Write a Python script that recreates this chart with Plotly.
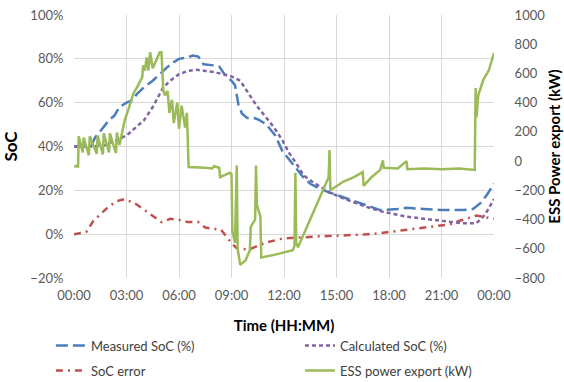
import plotly.graph_objects as go

# ---- data (time in hours, 0-24) ----
tick_hours = [0, 3, 6, 9, 12, 15, 18, 21, 24]
tick_labels = ["00:00", "03:00", "06:00", "09:00", "12:00", "15:00", "18:00", "21:00", "00:00"]

meas_t = [0, 0.5, 1.0, 1.2, 1.5, 1.8, 2.0, 2.3, 2.6, 3.0, 3.3, 3.6, 4.0, 4.5, 4.9, 5.3, 5.7, 6.0,
          6.4, 6.8, 7.1, 7.4, 8.0, 8.3, 8.6, 9.0, 9.2, 9.4, 9.6, 9.9, 10.3, 10.6, 11.0, 11.5,
          11.9, 12.5, 13.1, 13.5, 14.0, 14.6, 15.5, 16.5, 17.5, 18.5, 19.0, 20.0, 21.0, 22.2,
          22.8, 23.2, 23.6, 24.0]
meas_soc = [40, 40, 40.5, 44, 47, 50, 52, 54, 58, 60, 61, 64, 67, 70, 73, 76, 78.5, 80,
            80.5, 81.5, 81, 77.5, 77, 76.5, 73, 70, 68, 59, 55, 53, 53, 52, 50, 45,
            38, 32, 26, 23, 21, 19, 16.5, 13.5, 11, 11.5, 12, 11.5, 11, 11,
            11.5, 14, 18, 23]

calc_t = [0, 1, 1.7, 2.2, 2.6, 3.0, 3.6, 4.0, 4.5, 5.1, 5.5, 6.0, 6.5, 7.0, 7.5, 8.0, 8.5, 9.0,
          9.5, 10.0, 10.4, 10.9, 11.4, 11.9, 12.3, 12.8, 13.1, 13.6, 14.0, 14.6, 15.5, 16.5,
          17.5, 18.5, 19.0, 20.0, 21.0, 22.2, 23.0, 23.5, 24.0]
calc_soc = [40, 40, 40.5, 42, 43.5, 45, 49, 52, 58, 67, 70, 73, 74.5, 75, 74.5, 74, 73, 72,
            70, 64, 59, 54, 49, 43, 37, 31, 27, 24, 22, 19, 16, 13,
            10.5, 9, 8, 7, 6, 5, 5, 9, 16]

err_t = [0, 0.7, 1.1, 1.5, 1.9, 2.4, 2.9, 3.5, 4.2, 4.7, 5.0, 5.5, 6.0, 6.5, 7.1, 7.5, 7.9, 8.4,
         9.0, 9.3, 10.0, 10.9, 11.9, 12.9, 14.0, 15.6, 17.0, 18.0, 19.0, 20.3, 21.5, 22.0, 23.0, 24.0]
err_soc = [0, 1, 6, 9, 12, 15, 16, 14, 10, 7, 5.5, 7, 6.5, 5.5, 5.5, 3, 2.5, 2,
           -4, -6.5, -7, -4, -2, -1.5, -1, -0.5, 0, 1, 2, 3, 4.5, 6, 8.5, 7]

ess_t = [0, 0.2, 0.23, 0.27, 0.5, 0.55, 0.85, 0.9, 1.3, 1.35, 1.65, 1.7, 2.0, 2.05, 2.4, 2.45,
         2.6, 2.9, 3.1, 3.4, 3.6, 3.9, 3.95, 4.05, 4.15, 4.25, 4.35, 4.5, 4.9, 5.0, 5.1, 5.2,
         5.35, 5.45, 5.6, 5.7, 5.9, 6.0, 6.15, 6.35, 6.45, 6.5, 6.55, 7.5, 7.9, 8.0, 8.3, 8.35,
         8.9, 9.0, 9.05, 9.2, 9.3, 9.35, 9.5, 9.8, 10.05, 10.1, 10.35, 10.4, 10.45, 10.65,
         10.7, 11.5, 12.5, 12.6, 12.65, 12.7, 12.8, 14.55, 14.6, 14.65, 15.0, 15.4, 16.0,
         16.5, 16.55, 17.0, 17.5, 17.65, 17.7, 18.5, 19.0, 19.05, 20.0, 21.0, 22.0, 22.9,
         22.95, 23.0, 23.1, 23.4, 23.7, 24.0]
ess_kw = [-40, -30, -45, 170, 60, 160, 40, 170, 50, 175, 45, 190, 60, 190, 55, 195,
          110, 280, 350, 465, 505, 575, 655, 620, 710, 620, 745, 635, 745, 745, 485, 450,
          480, 330, 420, 260, 400, 220, 380, 230, 330, 180, -40, -45, -50, -35, -45, -110,
          -80, -90, -480, -560, -30, -600, -710, -680, -610, -450, -400, -30, -300, -380,
          -660, -640, -610, -580, -80, -560, -590, -110, 75, -200, -170, -140, -110,
          -75, -170, -110, -60, 5, -45, -50, 0, -55, -50, -55, -50, -60,
          500, 300, 450, 560, 620, 740]

FONT = "Lato, Liberation Sans, sans-serif"
C_BLUE = "#4A7EBB"
C_PURPLE = "#8064A2"
C_RED = "#C0504D"
C_GREEN = "#9BBB59"

fig = go.Figure()
fig.add_trace(go.Scatter(x=meas_t, y=meas_soc, mode="lines", name="Measured SoC (%)",
                         line=dict(color=C_BLUE, width=2.5, dash="12px,5px"),
                         legend="legend", legendgroup="a"))
fig.add_trace(go.Scatter(x=err_t, y=err_soc, mode="lines", name="SoC error",
                         line=dict(color=C_RED, width=2.5, dash="7px,5px,2px,5px"),
                         legend="legend", legendgroup="b"))
fig.add_trace(go.Scatter(x=calc_t, y=calc_soc, mode="lines", name="Calculated SoC (%)",
                         line=dict(color=C_PURPLE, width=2.5, dash="4px,3px"),
                         legend="legend2", legendgroup="c"))
fig.add_trace(go.Scatter(x=ess_t, y=ess_kw, mode="lines", name="ESS power export (kW)",
                         line=dict(color=C_GREEN, width=2.5), yaxis="y2",
                         legend="legend2", legendgroup="d"))

grid = "#D9D9D9"
fig.update_layout(
    width=564, height=382,
    margin=dict(l=74, r=70, t=15, b=104, autoexpand=False),
    paper_bgcolor="white", plot_bgcolor="white",
    font=dict(family=FONT, size=13, color="#595959"),
    showlegend=True,
    xaxis=dict(range=[0, 24], tickvals=tick_hours, ticktext=tick_labels,
               showgrid=True, gridcolor=grid, gridwidth=1, zeroline=False,
               showline=False, ticks="outside", ticklen=5, tickcolor="rgba(0,0,0,0)",
               automargin=False,
               title=dict(text="<b>Time (HH:MM)</b>", font=dict(size=15, color="black"), standoff=18)),
    yaxis=dict(range=[-20, 100], dtick=20, ticksuffix="%",
               showgrid=True, gridcolor=grid, gridwidth=1, zeroline=False,
               showline=False, ticks="outside", ticklen=7, tickcolor="rgba(0,0,0,0)",
               automargin=False,
               title=dict(text="<b>SoC</b>", font=dict(size=17, color="black"), standoff=14)),
    yaxis2=dict(range=[-800, 1000], dtick=200, overlaying="y", side="right",
                showgrid=False, zeroline=False, showline=False,
                ticks="outside", ticklen=17, tickcolor="rgba(0,0,0,0)",
                automargin=False,
                title=dict(text="<b>ESS Power export (kW)</b>", font=dict(size=15, color="black"), standoff=1)),
    legend=dict(x=-0.055, xanchor="left", y=-0.200, yanchor="top", orientation="v",
                bgcolor="rgba(0,0,0,0)", font=dict(size=13, color="#404040"),
                tracegroupgap=5, itemwidth=30, traceorder="grouped"),
    legend2=dict(x=0.538, xanchor="left", y=-0.200, yanchor="top", orientation="v",
                 bgcolor="rgba(0,0,0,0)", font=dict(size=13, color="#404040"),
                 tracegroupgap=5, itemwidth=30, traceorder="grouped"),
)

# remove the browser's default 8px page margin so the figure fills the window exactly
fig.write_html("out.html", config={"displayModeBar": False},
               post_script="document.body.style.margin='0px';")
